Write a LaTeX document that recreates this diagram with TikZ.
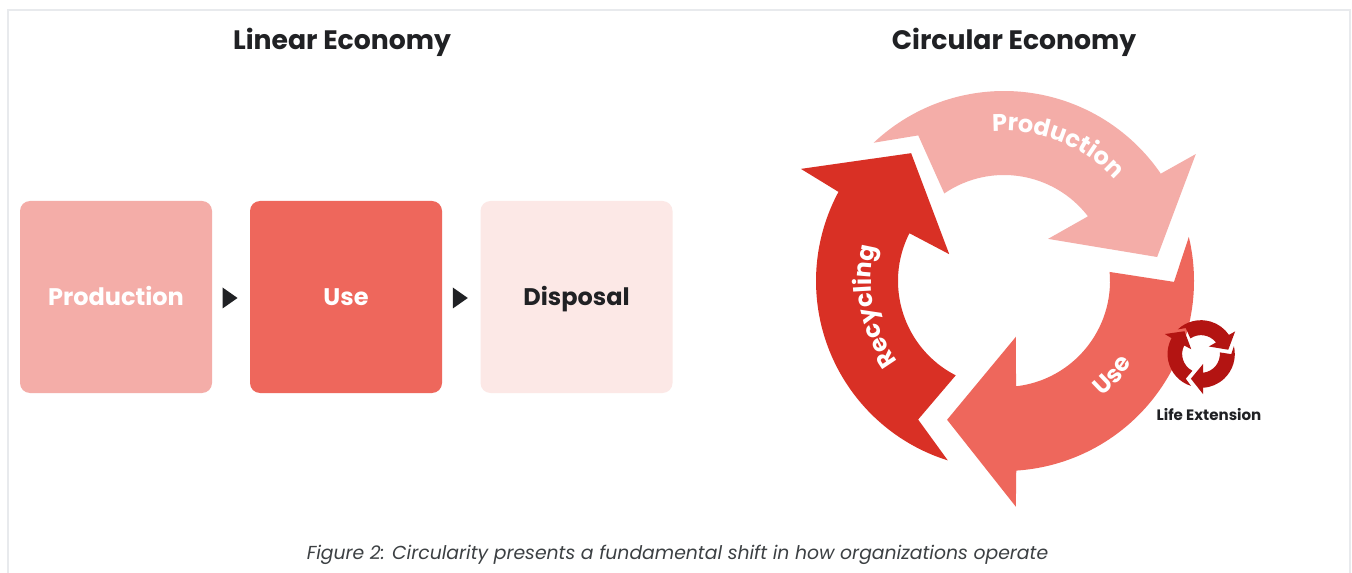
\documentclass[tikz,border=0pt]{standalone}
\usepackage{fontspec}
\setmainfont{Poppins}
\usetikzlibrary{decorations.text,shapes.geometric}
\definecolor{prodc}{HTML}{F4ADA8}
\definecolor{usec}{HTML}{EE675C}
\definecolor{recc}{HTML}{D93025}
\definecolor{dispc}{HTML}{FCE8E6}
\definecolor{iconc}{HTML}{B31412}
\definecolor{darkc}{HTML}{202124}
\definecolor{capc}{HTML}{3C4043}
\definecolor{framec}{HTML}{E8EAED}
\newcommand\ttlfnt{\fontsize{20}{24}\selectfont\bfseries}
\newcommand\boxfnt{\fontsize{18}{22}\selectfont\bfseries}
\newcommand\lefnt{\fontsize{11.3}{13}\selectfont\bfseries}
\newcommand\capfnt{\fontsize{14.1}{17}\selectfont\itshape}
\newcommand\ceProd[1]{\fill[#1] (133.3:190) arc[start angle=133.3, end angle=34.4, radius=190] -- (33.5:230) -- (8.9:155) -- (43.7:61) -- (37.6:106) arc[start angle=37.6, end angle=124.3, radius=106] -- (120.5:169) -- cycle;}
\newcommand\ceUse[1]{\fill[#1] (13.4:190) arc[start angle=13.4, end angle=-86.3, radius=190] -- (-87:226) -- (-112.3:150) -- (-77.9:57) -- (-83.5:106) arc[start angle=-83.5, end angle=4.9, radius=106] -- (-0.3:170) -- cycle;}
\newcommand\ceRec[1]{\fill[#1] (252.6:188) arc[start angle=252.6, end angle=151.7, radius=188] -- (151.1:232) -- (126:158) -- (153.9:61) -- (153.2:106) arc[start angle=153.2, end angle=242.9, radius=106] -- (238.2:163) -- cycle;}
\begin{document}
\begin{tikzpicture}[x=0.75pt,y=0.75pt,
  box/.style={rounded corners=7.5pt, minimum width=144pt, minimum height=144pt, inner sep=0pt, font=\boxfnt, text height=13pt, text depth=0pt},
  tri/.style={isosceles triangle, isosceles triangle stretches, fill=darkc, inner sep=0pt, minimum width=15.75pt, minimum height=11.25pt, xshift=-2.25pt, yshift=-0.75pt},
  ttl/.style={font=\ttlfnt, text=darkc},
  arctext/.style={decorate, decoration={text along path, text align=center, text={|\boxfnt\color{white}|#1}}}]
\fill[white] (0,0) rectangle (1352,-573);
\useasboundingbox (0,0) rectangle (1352,-573);
\draw[framec, line width=1.5] (8,-573) -- (8,-10) -- (1350,-10) -- (1350,-573);
% titles
\node[ttl] (tlin) at (342,-42) {Linear Economy};
\node[ttl] (tcirc) at (1014,-42) {Circular Economy};
% linear economy
\node[box, fill=prodc, text=white] (lp) at (116,-297) {Production};
\node[box, fill=usec, text=white] (lu) at (346,-297) {Use};
\node[box, fill=dispc, text=darkc] (ld) at (576.5,-297) {Disposal};
\path (lp) -- (lu) node[midway, tri] (a1) {};
\path (lu) -- (ld) node[midway, tri] (a2) {};
% circular economy
\begin{scope}[shift={(1004,-281)}]
  \ceProd{prodc}
  \ceUse{usec}
  \ceRec{recc}
  \path[arctext=Production] (128.5:150) arc[start angle=128.5, end angle=8.5, radius=150];
  \path[arctext=Recycling] (251:133) arc[start angle=251, end angle=131, radius=133];
  \path[arctext=Use] (-101:152) arc[start angle=-101, end angle=19, radius=152];
\end{scope}
% life extension icon
\begin{scope}[shift={(1201,-354)}, scale=0.178]
  \ceProd{iconc}
  \ceUse{iconc}
  \ceRec{iconc}
\end{scope}
\node[font=\lefnt, text=darkc] (le) at (1209,-415) {Life Extension};
% caption
\node[font=\capfnt, text=capc] (cap) at (677.5,-555) {Figure 2: Circularity presents a fundamental shift in how organizations operate};
\end{tikzpicture}
\end{document}
